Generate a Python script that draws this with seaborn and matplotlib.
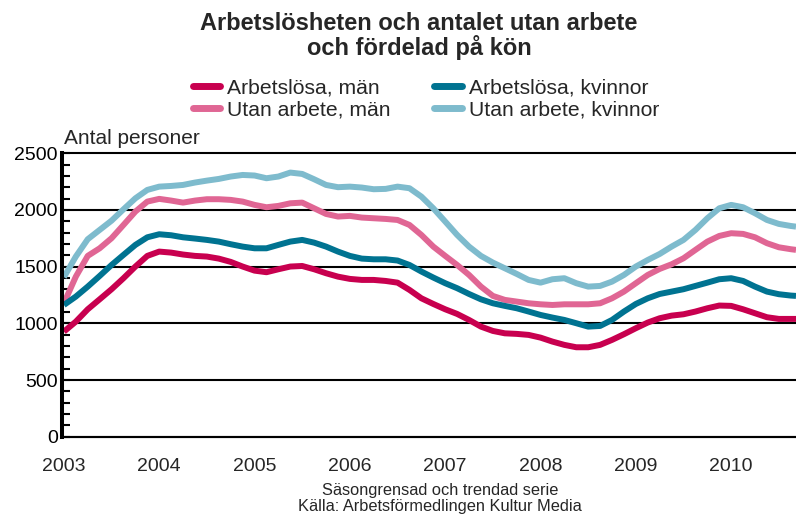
import pandas as pd
import matplotlib
matplotlib.use("Agg")
import matplotlib.pyplot as plt
import seaborn as sns
from matplotlib.ticker import MultipleLocator
from matplotlib.lines import Line2D

# Data (var åttonde år, decimalår)
tid = [2003.000, 2003.125, 2003.250, 2003.375, 2003.500, 2003.625, 2003.750, 2003.875,
       2004.000, 2004.125, 2004.250, 2004.375, 2004.500, 2004.625, 2004.750, 2004.875,
       2005.000, 2005.125, 2005.250, 2005.375, 2005.500, 2005.625, 2005.750, 2005.875,
       2006.000, 2006.125, 2006.250, 2006.375, 2006.500, 2006.625, 2006.750, 2006.875,
       2007.000, 2007.125, 2007.250, 2007.375, 2007.500, 2007.625, 2007.750, 2007.875,
       2008.000, 2008.125, 2008.250, 2008.375, 2008.500, 2008.625, 2008.750, 2008.875,
       2009.000, 2009.125, 2009.250, 2009.375, 2009.500, 2009.625, 2009.750, 2009.875,
       2010.000, 2010.125, 2010.250, 2010.375, 2010.500, 2010.625, 2010.680]

arbetslosa_man = [927, 1015, 1124, 1212, 1301, 1398, 1501, 1595,
                  1633, 1624, 1607, 1595, 1589, 1571, 1542, 1501,
                  1465, 1451, 1477, 1501, 1506, 1477, 1442, 1412,
                  1392, 1383, 1383, 1374, 1359, 1295, 1221, 1171,
                  1124, 1083, 1030, 971, 933, 912, 907, 898,
                  874, 839, 810, 789, 789, 810, 854, 904,
                  957, 1007, 1045, 1068, 1080, 1104, 1133, 1157,
                  1154, 1124, 1089, 1054, 1039, 1039, 1039]
arbetslosa_kvinnor = [1162, 1236, 1324, 1418, 1515, 1604, 1692, 1759,
                      1786, 1777, 1759, 1748, 1736, 1721, 1698, 1677,
                      1662, 1662, 1692, 1721, 1736, 1712, 1677, 1633,
                      1595, 1571, 1565, 1565, 1554, 1515, 1457, 1404,
                      1354, 1310, 1259, 1212, 1177, 1154, 1133, 1104,
                      1074, 1051, 1030, 1001, 971, 977, 1030, 1104,
                      1171, 1221, 1259, 1280, 1301, 1330, 1359, 1389,
                      1398, 1374, 1324, 1280, 1257, 1245, 1242]
utan_arbete_man = [1177, 1412, 1595, 1662, 1751, 1868, 1986, 2074,
                   2098, 2083, 2065, 2083, 2095, 2095, 2089, 2074,
                   2045, 2024, 2036, 2059, 2065, 2015, 1965, 1942,
                   1948, 1933, 1927, 1921, 1912, 1868, 1780, 1677,
                   1595, 1515, 1427, 1324, 1242, 1207, 1192, 1177,
                   1168, 1162, 1168, 1168, 1168, 1177, 1221, 1280,
                   1354, 1427, 1480, 1521, 1574, 1648, 1721, 1771,
                   1795, 1789, 1759, 1707, 1671, 1654, 1648]
utan_arbete_kvinnor = [1407, 1589, 1742, 1824, 1906, 2006, 2103, 2177,
                       2206, 2212, 2221, 2242, 2259, 2274, 2295, 2309,
                       2304, 2280, 2295, 2330, 2318, 2271, 2221, 2201,
                       2206, 2198, 2183, 2186, 2206, 2192, 2118, 2015,
                       1898, 1780, 1677, 1595, 1536, 1486, 1436, 1383,
                       1359, 1389, 1398, 1354, 1324, 1330, 1368, 1427,
                       1501, 1559, 1612, 1677, 1736, 1824, 1927, 2015,
                       2045, 2024, 1971, 1912, 1877, 1859, 1853]

serier = ["Arbetslösa, män", "Utan arbete, män", "Arbetslösa, kvinnor", "Utan arbete, kvinnor"]
farger = ["#C8004F", "#E06694", "#007391", "#7EBBCD"]
ar = list(range(2003, 2011))

df = pd.DataFrame({
    "tid": tid,
    serier[0]: arbetslosa_man,
    serier[1]: utan_arbete_man,
    serier[2]: arbetslosa_kvinnor,
    serier[3]: utan_arbete_kvinnor,
}).melt(id_vars="tid", var_name="serie", value_name="antal")

sns.set_style("white")
plt.rcParams["font.family"] = ["Liberation Sans", "DejaVu Sans"]

fig = plt.figure(figsize=(7.96, 5.16), dpi=100)
ax = fig.add_axes([62 / 796, 1 - 436.7 / 516, 1 - 62 / 796, (436.7 - 153.3) / 516])

# ritordning: ljusa linjer under
sns.lineplot(data=df, x="tid", y="antal", hue="serie",
             hue_order=[serier[3], serier[1], serier[2], serier[0]],
             palette=[farger[3], farger[1], farger[2], farger[0]],
             linewidth=4.3, legend=False, ax=ax, solid_capstyle="butt",
             solid_joinstyle="round")

ax.set_xlim(2002.98, 2010.68)
ax.set_ylim(0, 2500)
ax.set_xlabel("")
ax.set_ylabel("")

ax.set_yticks(range(0, 2501, 500))
ax.yaxis.set_minor_locator(MultipleLocator(100))
ax.tick_params(axis="y", which="both", direction="in", length=6, width=1.5,
               left=True, labelsize=14, pad=3, colors="black")
ax.set_xticks(ar)
ax.set_xticklabels([str(a) for a in ar])
ax.tick_params(axis="x", length=0, labelsize=14, pad=15)

ax.yaxis.grid(True, color="black", linewidth=1.5)
ax.xaxis.grid(False)
ax.set_axisbelow(True)
for gl in ax.get_ygridlines():
    gl.set_clip_on(False)

for s in ["top", "right"]:
    ax.spines[s].set_visible(False)
ax.spines["left"].set_linewidth(2.9)
ax.spines["left"].set_color("black")
ax.spines["bottom"].set_linewidth(1.5)
ax.spines["bottom"].set_color("black")

# Titel
fig.text(419 / 796, 1 - 36 / 516, "Arbetslösheten och antalet utan arbete\noch fördelad på kön",
         ha="center", va="center", fontsize=17, fontweight="bold", linespacing=1.02)

# Legend
handtag = [Line2D([0], [0], color=f, linewidth=5, solid_capstyle="round") for f in farger]
fig.legend(handtag, serier, ncol=2, loc="center", bbox_to_anchor=(426 / 796, 1 - 99 / 516),
           frameon=False, fontsize=15.2, handlelength=1.3, handletextpad=0.35,
           columnspacing=2.05, labelspacing=0.15, borderpad=0)

fig.text(64 / 796, 1 - 138 / 516, "Antal personer", ha="left", va="center", fontsize=15)

fig.text(440 / 796, 1 - 491 / 516, "Säsongrensad och trendad serie",
         ha="center", va="center", fontsize=11.8)
fig.text(440 / 796, 1 - 507 / 516, "Källa: Arbetsförmedlingen Kultur Media",
         ha="center", va="center", fontsize=11.8)

fig.savefig("out.png", dpi=100)
